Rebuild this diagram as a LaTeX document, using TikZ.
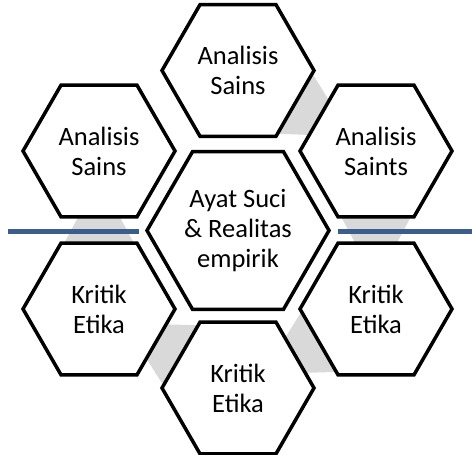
\documentclass[tikz,border=0pt]{standalone}
\usepackage{fontspec}
\setmainfont{Carlito}
\usetikzlibrary{shapes.geometric,calc}
\definecolor{linkgray}{RGB}{217,217,217}
\definecolor{barblue}{RGB}{59,94,140}
\begin{document}
\begin{tikzpicture}[x=1pt,y=-1pt,
  hexcell/.style={regular polygon, regular polygon sides=6, minimum size=152pt,
    inner sep=0pt, draw=black, line width=3.5pt, fill=white, align=center,
    font=\fontsize{26.5}{30}\selectfont},
  hexhub/.style={hexcell, minimum size=182pt},
  link/.style={fill=linkgray},
  bar/.style={draw=barblue, line width=5pt}]
\useasboundingbox (0,0) rectangle (474,455);

% cell centres
\coordinate (c-top) at (238,70.5);
\coordinate (c-tr)  at (376,151);
\coordinate (c-br)  at (376,309);
\coordinate (c-bot) at (238,388);
\coordinate (c-bl)  at (99,309);
\coordinate (c-tl)  at (99,151);
\coordinate (c-mid) at (238,230.5);

% tapering links along the outer ring
\foreach \a/\b in {top/tr, tr/br, br/bot, bot/bl, bl/tl}{
  \fill[link] ($(c-\a)!70pt!90:(c-\b)$) -- ($(c-\a)!131pt!(c-\b)$)
              -- ($(c-\a)!70pt!-90:(c-\b)$) -- cycle;
}

% horizontal bars
\coordinate (barL1) at (8,231);
\coordinate (barL2) at (139,231);
\coordinate (barR1) at (338,231);
\coordinate (barR2) at (472,231);
\draw[bar] (barL1) -- (barL2);
\draw[bar] (barR1) -- (barR2);

% cells
\node[hexcell] (top) at (c-top) {Analisis\\Sains};
\node[hexcell] (tr)  at (c-tr)  {Analisis\\Saints};
\node[hexcell] (br)  at (c-br)  {Kritik\\Etika};
\node[hexcell] (bot) at (c-bot) {Kritik\\Etika};
\node[hexcell] (bl)  at (c-bl)  {Kritik\\Etika};
\node[hexcell] (tl)  at (c-tl)  {Analisis\\Sains};
\node[hexhub]  (mid) at (c-mid) {Ayat Suci\\\& Realitas\\empirik};
\end{tikzpicture}
\end{document}
